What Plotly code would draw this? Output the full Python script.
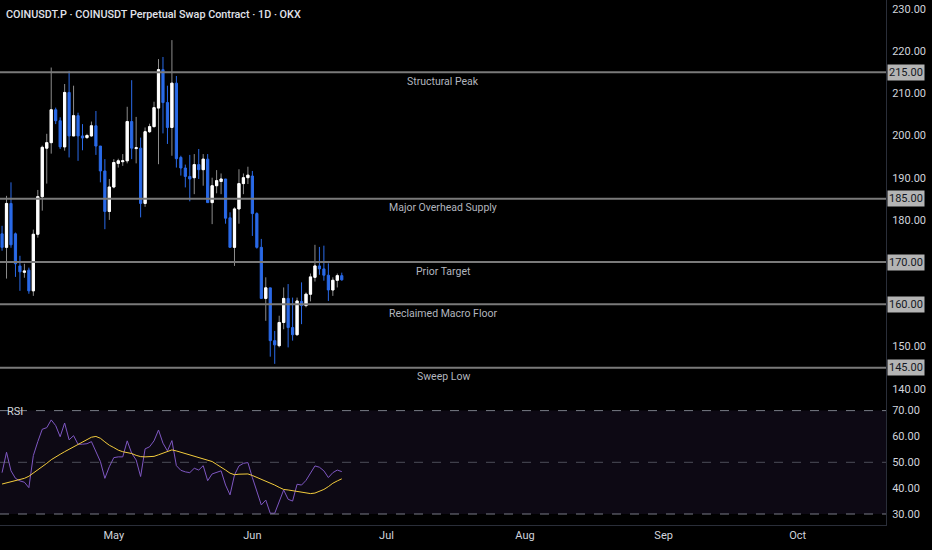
import pandas as pd
import plotly.graph_objects as go

# daily candles, OKX perpetual (24/7 so no gaps)
dates = pd.date_range("2025-04-06", "2025-06-21", freq="D")

opens = [176.7, 173.5, 183.9, 176.7, 169.1, 167.6, 168.1, 163.2, 176.6, 185.5,
         197.0, 198.3, 206.1, 203.5, 197.3, 210.2, 199.9, 204.7, 199.9, 199.5,
         199.9, 202.3, 197.5, 191.6, 182.0, 187.8, 193.4, 193.8, 194.0, 203.3,
         196.9, 197.0, 183.9, 200.9, 202.1, 206.5, 215.6, 207.8, 201.9, 212.4,
         194.8, 192.3, 190.3, 190.0, 193.1, 191.9, 194.4, 184.1, 188.1, 189.1,
         189.7, 180.5, 173.5, 182.6, 188.6, 190.0, 190.4, 181.5, 173.5, 161.4,
         163.9, 151.4, 150.2, 155.7, 161.4, 154.5, 152.8, 160.7, 159.7, 162.4,
         166.4, 169.1, 168.4, 166.9, 163.4, 165.7, 166.8]
highs = [178.6, 185.7, 188.9, 177.0, 171.5, 169.6, 168.7, 177.7, 187.1, 197.6,
         200.4, 216.1, 206.6, 204.3, 212.2, 215.3, 211.8, 205.4, 202.7, 200.4,
         203.3, 205.8, 197.5, 194.4, 189.7, 194.4, 194.5, 195.6, 206.8, 213.1,
         204.4, 199.5, 201.9, 202.8, 208.0, 218.1, 218.6, 211.8, 222.6, 214.1,
         195.2, 193.1, 195.4, 195.6, 196.8, 195.6, 195.6, 190.0, 191.8, 191.0,
         189.7, 181.8, 183.0, 192.0, 191.0, 192.6, 191.6, 181.8, 175.5, 166.4,
         163.9, 153.7, 157.3, 164.0, 164.8, 161.6, 161.6, 165.2, 162.8, 167.3,
         174.1, 173.6, 173.9, 169.7, 166.4, 167.3, 167.5]
lows = [172.7, 166.1, 173.4, 166.5, 163.2, 166.3, 162.5, 162.0, 175.8, 182.2,
        188.6, 195.7, 202.7, 196.8, 196.4, 194.8, 199.9, 194.0, 196.5, 199.2,
        199.7, 195.4, 188.9, 177.8, 180.0, 187.5, 192.4, 192.8, 193.4, 194.4,
        193.4, 180.6, 183.1, 200.6, 201.9, 193.2, 200.5, 198.0, 195.2, 192.4,
        190.5, 187.7, 184.4, 186.1, 189.7, 188.1, 184.1, 179.0, 186.3, 186.1,
        179.1, 173.5, 169.1, 179.1, 186.1, 188.5, 176.2, 173.2, 161.4, 156.1,
        147.6, 145.9, 149.8, 154.1, 149.8, 151.4, 152.6, 155.3, 159.3, 160.7,
        165.4, 167.0, 165.6, 160.8, 162.0, 164.0, 165.6]
closes = [173.5, 183.9, 174.1, 169.6, 167.7, 167.9, 163.2, 176.6, 185.5, 197.2,
          198.3, 206.1, 203.5, 197.3, 210.2, 199.9, 204.7, 199.9, 199.4, 200.0,
          202.3, 197.5, 191.6, 182.0, 187.8, 193.6, 194.0, 194.0, 203.3, 197.0,
          197.1, 183.9, 200.9, 202.1, 206.6, 215.6, 207.8, 201.9, 212.4, 194.5,
          192.3, 190.3, 189.7, 193.1, 191.9, 194.4, 184.1, 188.1, 189.3, 189.7,
          180.4, 173.5, 182.6, 188.6, 190.0, 190.6, 181.5, 173.5, 161.4, 163.9,
          151.4, 150.4, 155.7, 161.4, 154.5, 152.8, 160.8, 159.7, 162.4, 166.5,
          169.1, 168.4, 166.9, 163.4, 165.7, 166.8, 165.8]

rsi = [46.0, 53.9, 46.7, 43.8, 42.8, 42.3, 40.2, 52.6, 58.0, 62.8,
       63.4, 66.4, 64.2, 59.9, 65.2, 58.7, 60.3, 57.0, 57.0, 57.2,
       58.0, 54.1, 50.3, 43.8, 48.3, 51.8, 52.1, 52.1, 58.3, 53.5,
       50.9, 44.5, 55.2, 56.0, 58.3, 62.5, 57.4, 54.4, 58.4, 48.7,
       46.9, 46.3, 46.0, 47.7, 47.0, 48.7, 42.9, 45.5, 46.1, 46.7,
       41.2, 37.4, 45.1, 48.6, 49.6, 49.9, 44.1, 38.7, 33.5, 35.4,
       30.3, 30.3, 35.0, 39.3, 35.7, 35.0, 41.5, 41.2, 43.0, 45.7,
       48.6, 48.1, 46.7, 44.1, 46.0, 47.0, 46.4]
rsi_ma = [41.6, 42.0, 42.4, 42.8, 43.2, 43.8, 44.6, 45.8, 46.9, 48.1,
          49.6, 51.0, 52.2, 53.1, 54.1, 55.0, 55.9, 56.9, 58.0, 58.9,
          59.7, 60.0, 59.3, 57.9, 56.6, 55.7, 54.7, 54.1, 53.8, 53.4,
          52.7, 52.2, 52.1, 52.1, 52.3, 52.9, 53.5, 54.1, 54.8, 54.4,
          53.9, 53.4, 52.9, 52.3, 52.1, 51.6, 50.9, 50.3, 49.2, 48.2,
          47.0, 45.8, 45.2, 45.4, 45.5, 45.5, 44.9, 44.2, 43.6, 42.9,
          42.1, 41.2, 40.3, 39.5, 39.3, 39.0, 38.9, 38.5, 38.1, 37.9,
          38.1, 38.7, 39.5, 40.6, 41.9, 42.8, 43.6]

levels = [215, 185, 170, 160, 145]
level_names = ["Structural Peak", "Major Overhead Supply", "Prior Target",
               "Reclaimed Macro Floor", "Sweep Low"]

month_ticks = ["2025-05-01", "2025-06-01", "2025-07-01", "2025-08-01", "2025-09-01", "2025-10-01"]
month_names = ["May", "Jun", "Jul", "Aug", "Sep", "Oct"]
price_ticks = [140, 150, 180, 190, 200, 210, 220, 230]  # 145/160/170/185/215 get boxes instead
rsi_ticks = [30, 40, 50, 60, 70]

UP = "#ffffff"
UP_WICK = "#8c8c8c"
DOWN = "#2a6ae8"
TXT = "#d1d4dc"
BORDER = "#2a2e39"
FONT = "Roboto"

fig = go.Figure()
fig.add_trace(go.Candlestick(
    x=dates, open=opens, high=highs, low=lows, close=closes,
    increasing=dict(line=dict(color=UP_WICK, width=1), fillcolor=UP),
    decreasing=dict(line=dict(color=DOWN, width=1), fillcolor=DOWN),
    whiskerwidth=0, xaxis="x", yaxis="y", hoverinfo="skip", showlegend=False))

# redraw the white bodies on top so the grey wick colour doesn't outline them
up = [i for i in range(len(opens)) if closes[i] >= opens[i]]
fig.add_trace(go.Candlestick(
    x=[dates[i] for i in up],
    open=[opens[i] for i in up], close=[closes[i] for i in up],
    high=[closes[i] for i in up], low=[opens[i] for i in up],
    increasing=dict(line=dict(color=UP, width=1), fillcolor=UP),
    whiskerwidth=0, xaxis="x", yaxis="y", hoverinfo="skip", showlegend=False))

fig.add_trace(go.Scatter(x=dates, y=rsi, mode="lines", line=dict(color="#7e57c2", width=1),
                         xaxis="x", yaxis="y2", hoverinfo="skip", showlegend=False))
fig.add_trace(go.Scatter(x=dates, y=rsi_ma, mode="lines", line=dict(color="#f2cb3c", width=1),
                         xaxis="x", yaxis="y2", hoverinfo="skip", showlegend=False))

# key levels
for v, name in zip(levels, level_names):
    fig.add_shape(type="line", xref="x domain", x0=0, x1=1, yref="y", y0=v, y1=v,
                  line=dict(color="#7a7a7a", width=2))
    fig.add_annotation(xref="x domain", x=0.5, yref="y", y=v, yshift=-9, text=name,
                       showarrow=False, font=dict(size=10.5, color="#b2b5be"))
    fig.add_annotation(xref="x domain", x=1, xanchor="left", xshift=1, yref="y", y=v,
                       text=f"{v:.2f}", showarrow=False, bgcolor="#b4b4b4", borderpad=1,
                       font=dict(size=11, color="#131722"))

# RSI pane
fig.add_shape(type="rect", xref="x domain", x0=0, x1=1, yref="y2", y0=30, y1=70,
              fillcolor="rgba(126,87,194,0.1)", line=dict(width=0), layer="below")
for v, c in [(70, "#787b86"), (50, "rgba(120,123,134,0.6)"), (30, "#787b86")]:
    fig.add_shape(type="line", xref="x domain", x0=0, x1=1, yref="y2", y0=v, y1=v,
                  line=dict(color=c, width=1, dash="dash"))

fig.add_annotation(xref="x domain", x=0, xanchor="left", xshift=5, yref="y2 domain", y=1,
                   yanchor="top", yshift=-6, text="RSI", showarrow=False,
                   font=dict(size=11, color=TXT))
fig.add_annotation(xref="paper", x=0, xanchor="left", xshift=4, yref="paper", y=1,
                   yanchor="top", yshift=-6,
                   text="COINUSDT.P · COINUSDT Perpetual Swap Contract · 1D · OKX",
                   showarrow=False, font=dict(size=10.8, color="#e0e3eb", weight=500))

fig.update_layout(
    width=932, height=550,
    margin=dict(l=0, r=46, t=0, b=25),
    paper_bgcolor="#000000", plot_bgcolor="#000000",
    font=dict(family=FONT, size=11, color=TXT),
    showlegend=False,
    xaxis=dict(range=["2025-04-05 13:00", "2025-10-20 18:00"], anchor="y2",
               tickvals=month_ticks, ticktext=month_names, showgrid=False, zeroline=False,
               showline=True, linecolor=BORDER, ticks="", rangeslider=dict(visible=False)),
    yaxis=dict(domain=[0.244, 1], range=[138.07, 232.1], side="right", anchor="x",
               tickvals=price_ticks, tickformat=".2f", showgrid=False, zeroline=False,
               showline=True, linecolor=BORDER, ticks="", ticklabelstandoff=3),
    yaxis2=dict(domain=[0, 0.244], range=[25.75, 75.3], side="right", anchor="x",
                tickvals=rsi_ticks, tickformat=".2f", showgrid=False, zeroline=False,
                showline=True, linecolor=BORDER, ticks="", ticklabelstandoff=3),
)

# page body has an 8px default margin; drop it so the chart fills the window
fig.write_html("out.html", config={"displayModeBar": False},
               post_script="document.body.style.margin='0';")
